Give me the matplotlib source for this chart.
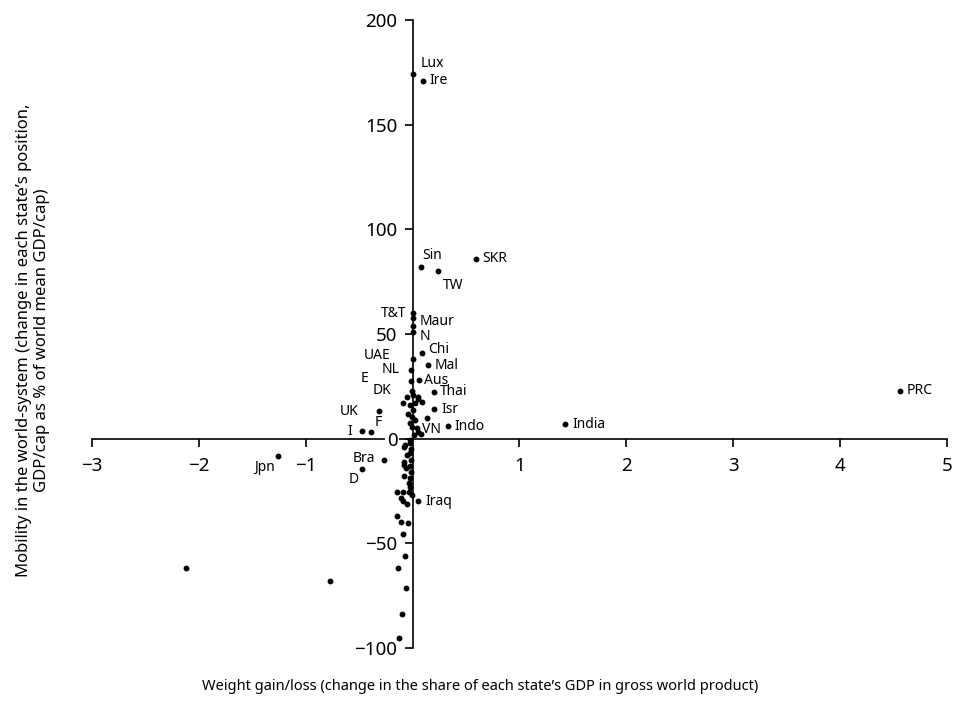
import matplotlib
matplotlib.use("Agg")
import matplotlib.pyplot as plt

# labelled states: weight gain/loss (x) vs mobility (y)
NAMES = ["Lux", "Ire", "Sin", "TW", "SKR", "T&T", "Maur", "N", "Chi", "UAE",
         "NL", "E", "Mal", "Aus", "DK", "Thai", "Isr", "Indo", "VN", "UK",
         "F", "I", "India", "PRC", "Jpn", "Bra", "D", "Iraq"]
NAMED_X = [0.0, 0.094, 0.08, 0.234, 0.59, 0.0, 0.0, 0.0, 0.09, 0.0,
           -0.015, -0.015, 0.146, 0.056, -0.01, 0.2, 0.2, 0.33, 0.134, -0.31,
           -0.39, -0.47, 1.43, 4.56, -1.26, -0.27, -0.47, 0.05]
NAMED_Y = [174, 171, 82, 80, 86, 60, 57.5, 51, 41, 38,
           33, 27.5, 35, 28, 23, 22.5, 14, 6, 10, 13,
           3, 3.5, 7, 23, -8.3, -10, -14.7, -30]

# unlabelled states
OTHER_X = [0.0, -2.12, -0.77,
           -0.05, 0.0, 0.05, -0.09, -0.025, 0.02, 0.006, -0.04, -0.01, 0.02,
           -0.025, -0.005, 0.04, 0.05, 0.08, 0.015, -0.025, -0.07, 0.05, 0.085,
           -0.08, -0.05, -0.08, -0.08, -0.06, -0.08, -0.025, -0.035, -0.15, -0.09,
           -0.03, -0.11, -0.09, -0.05, -0.15, -0.11, -0.04, -0.09, -0.07, -0.14,
           -0.065, -0.1, -0.13,
           -0.02, -0.015, -0.02, -0.015, -0.02, -0.015, -0.02, -0.01]
OTHER_Y = [54, -62, -68,
           20, 21, 20, 17, 16, 17, 13.7, 12, 10.5, 9,
           7.3, 5.7, 4.9, 3.3, 2, 1.8, -0.5, -2.9, 19, 17.4,
           -3.8, -8, -11, -12.6, -14, -18, -19, -21.4, -25.4, -25.4,
           -25.4, -28.5, -30, -31.4, -36.8, -40, -40.5, -45.6, -56, -62,
           -71.3, -83.6, -95,
           -2, -5, -7, -10, -13, -16, -23, -27]

X_TICKS = [-3, -2, -1, 1, 2, 3, 4, 5]
Y_TICKS = [-100, -50, 0, 50, 100, 150, 200]

# label offsets in pixels (dx, dy, ha)
OFFS = {"Lux": (8, 11, "left"), "Ire": (7, 0, "left"), "Sin": (1, 12, "left"),
        "TW": (5, -14, "left"), "SKR": (7, 0, "left"), "T&T": (-6, 0, "right"),
        "Maur": (7, -3, "left"), "N": (7, -5, "left"), "Chi": (6, 3, "left"),
        "UAE": (-22, 4, "right"), "NL": (-11, 0, "right"), "E": (-43, 3, "right"),
        "Mal": (6, 0, "left"), "Aus": (5, 0, "left"), "DK": (-20, 0, "right"),
        "Thai": (6, 0, "left"), "Isr": (7, 0, "left"), "Indo": (7, 0, "left"),
        "VN": (-5, -12, "left"), "UK": (-21, 0, "right"), "F": (4, 10, "left"),
        "I": (-10, 0, "right"), "India": (7, 0, "left"), "PRC": (7, 0, "left"),
        "Jpn": (-3, -11, "right"), "Bra": (-9, 1, "right"), "D": (-4, -10, "right"),
        "Iraq": (7, 0, "left")}

plt.rcParams.update({"font.family": ["Noto Sans", "DejaVu Sans"],
                     "axes.unicode_minus": True})

fig = plt.figure(figsize=(9.61, 7.16), dpi=100, facecolor="white")
ax = fig.add_axes([0.0957, 0.095, 0.8897, 0.877])
ax.set_xlim(-3, 5)
ax.set_ylim(-100, 200)

ax.plot(OTHER_X, OTHER_Y, "o", color="black", ms=3.2, zorder=4)
ax.plot(NAMED_X, NAMED_Y, "o", color="black", ms=3.2, zorder=4)

for name, x, y in zip(NAMES, NAMED_X, NAMED_Y):
    dx, dy, ha = OFFS[name]
    ax.annotate(name, (x, y), xytext=(dx, dy), textcoords="offset pixels",
                ha=ha, va="center", fontsize=10, zorder=5)

for side in ("top", "right"):
    ax.spines[side].set_visible(False)
ax.spines["left"].set_position(("data", 0))
ax.spines["bottom"].set_position(("data", 0))
for side in ("left", "bottom"):
    ax.spines[side].set_linewidth(1.2)

ax.set_xticks(X_TICKS)
ax.set_yticks(Y_TICKS)
ax.tick_params(axis="both", direction="out", length=6, width=1.2,
               labelsize=13.5, pad=5)
ax.tick_params(axis="x", pad=7)
ax.yaxis.set_zorder(3)
for lab in ax.get_yticklabels():
    lab.set_bbox(dict(facecolor="white", edgecolor="none", pad=1))

fig.text(0.034, 0.525,
         "Mobility in the world-system (change in each state\u2019s position,\n"
         "GDP/cap as % of world mean GDP/cap)",
         rotation=90, ha="center", va="center", fontsize=12, linespacing=1.15)
fig.text(0.5, 0.041,
         "Weight gain/loss (change in the share of each state\u2019s GDP in gross world product)",
         ha="center", va="center", fontsize=10.5)

fig.savefig("out.png", dpi=100, facecolor="white")
